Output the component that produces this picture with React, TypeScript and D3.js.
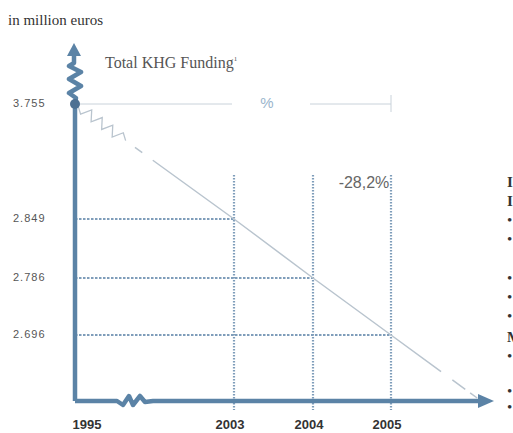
import React from "react";
import * as d3 from "d3";

const years = [1995, 2003, 2004, 2005];
const yearLabels = ["1995", "2003", "2004", "2005"];
const values = [3.755, 2.849, 2.786, 2.696];
const valueLabels = ["3.755", "2.849", "2.786", "2.696"];
const changeLabel = "-28,2%";
const unitLabel = "in million euros";
const titleLabel = "Total KHG Funding";
const sideRows = [
  { t: "I", y: 187, bold: true },
  { t: "I", y: 206, bold: true },
  { t: "•", y: 225 },
  { t: "•", y: 244 },
  { t: "•", y: 283 },
  { t: "•", y: 302 },
  { t: "•", y: 321 },
  { t: "M", y: 342, bold: true },
  { t: "•", y: 361 },
  { t: "•", y: 396 },
  { t: "•", y: 412 },
];

const W = 513;
const H = 433;
const AXIS = "#5b83a6";
const GRID = "#7f9dba";
const LINE = "#b9c4ce";

export default function App() {
  const x = d3.scaleLinear().domain(years).range([75, 234, 313, 391]);
  const yDomain = [...values].sort((a, b) => a - b);
  const y = d3.scaleLinear().domain(yDomain).range([335, 278, 219, 104]);
  const baseY = 401;
  const axisX = x(years[0]);

  const pts: [number, number][] = years.map((yr, i) => [x(yr), y(values[i])]);
  const line = d3.line<[number, number]>();

  // squiggle near the start of the trend line
  const [p0, p1] = [pts[0], pts[1]];
  const dx = p1[0] - p0[0];
  const dy = p1[1] - p0[1];
  const len = Math.hypot(dx, dy);
  const ux = dx / len, uy = dy / len;
  const nx = -uy, ny = ux;
  const sq: [number, number][] = [];
  for (let i = 0; i <= 9; i++) {
    const t = 4 + i * 6.5;
    const a = i === 0 || i === 9 ? 0 : (i % 2 ? 5 : -5);
    sq.push([p0[0] + ux * t + nx * a, p0[1] + uy * t + ny * a]);
  }

  // extension beyond last point
  const last = pts[pts.length - 1];
  const prev = pts[pts.length - 2];
  const slope = (last[1] - prev[1]) / (last[0] - prev[0]);
  const extEndY = baseY - 3;
  const ext: [number, number][] = [last, [last[0] + (extEndY - last[1]) / slope, extEndY]];

  // y axis with zigzag
  const yTop = 43;
  const zig: [number, number][] = [
    [axisX, baseY],
    [axisX, y(values[0])],
    [axisX + 1, 98],
    [axisX - 6, 93],
    [axisX + 6, 86],
    [axisX - 6, 79],
    [axisX + 6, 72],
    [axisX - 6, 66],
    [axisX - 1, 63],
    [axisX - 1, yTop + 10],
  ];
  const xzig: [number, number][] = [
    [axisX, baseY],
    [117, baseY],
    [123, baseY + 4],
    [129, baseY - 5],
    [133, baseY + 4],
    [140, baseY - 5],
    [145, baseY + 1],
    [153, baseY],
    [480, baseY],
  ];

  const font = "'Liberation Sans', Arial, sans-serif";
  const serif = "'Liberation Serif', 'Times New Roman', serif";

  return (
    <svg width={W} height={H} style={{ position: "absolute", left: 0, top: 0, background: "#fff" }}>
      <text x={8} y={25} fontFamily={serif} fontSize={15} fill="#333">{unitLabel}</text>
      <text x={105} y={68} fontFamily={serif} fontSize={16} fill="#555">
        {titleLabel}
        <tspan fontSize={7} dy={-7}>1</tspan>
      </text>

      {/* top reference line */}
      <line x1={axisX + 5} x2={232} y1={y(values[0])} y2={y(values[0])} stroke="#c9d2da" strokeWidth={1} />
      <line x1={310} x2={x(2005)} y1={y(values[0])} y2={y(values[0])} stroke="#c9d2da" strokeWidth={1} />
      <line x1={x(2005)} x2={x(2005)} y1={y(values[0]) - 9} y2={y(values[0]) + 8} stroke="#c9d2da" strokeWidth={1} />
      <text x={267} y={108} textAnchor="middle" fontFamily={font} fontSize={15} fill="#9ab5cc">%</text>

      {/* vertical dotted lines */}
      {years.slice(1).map((yr) => (
        <line key={"v" + yr} x1={x(yr)} x2={x(yr)} y1={175} y2={baseY + 9} stroke={GRID} strokeWidth={2.2} strokeDasharray="1.6 1.4" />
      ))}
      {/* horizontal dotted lines */}
      {years.slice(1).map((yr, i) => (
        <line key={"h" + yr} x1={axisX} x2={x(yr)} y1={y(values[i + 1])} y2={y(values[i + 1])} stroke={GRID} strokeWidth={2.2} strokeDasharray="2.5 1.5" />
      ))}

      {/* trend line */}
      <path d={line(pts) || ""} fill="none" stroke={LINE} strokeWidth={1.5} strokeDasharray="0 74 9 13 2000" />
      <path d={line(sq) || ""} fill="none" stroke={LINE} strokeWidth={1.3} />
      <path d={line(ext) || ""} fill="none" stroke={LINE} strokeWidth={1.5} strokeDasharray="62 14 16 6 12 40" />

      {/* axes */}
      <path d={line(zig) || ""} fill="none" stroke={AXIS} strokeWidth={4.5} strokeLinejoin="round" />
      <path d={`M${axisX - 1 - 7},${yTop + 13} L${axisX - 1},${yTop} L${axisX - 1 + 7},${yTop + 13} Z`} fill={AXIS} />
      <path d={line(xzig) || ""} fill="none" stroke={AXIS} strokeWidth={4.5} strokeLinejoin="round" />
      <path d={`M478,${baseY - 7} L494,${baseY} L478,${baseY + 7} Z`} fill={AXIS} />
      <circle cx={axisX} cy={y(values[0])} r={5} fill="#4d7193" />

      {/* value labels */}
      {values.map((v, i) => (
        <text key={"l" + i} x={13} y={y(v) + 3} fontFamily={font} fontSize={11} letterSpacing={1} fill="#555">{valueLabels[i]}</text>
      ))}
      {/* year labels */}
      {years.map((yr, i) => (
        <text key={"y" + yr} x={i === 0 ? 87 : x(yr) - 4} y={429} textAnchor="middle" fontFamily={font} fontSize={13} fontWeight="bold" fill="#333">{yearLabels[i]}</text>
      ))}

      <text x={364} y={188} textAnchor="middle" fontFamily={font} fontSize={16} fill="#666">{changeLabel}</text>

      {sideRows.map((r, i) => (
        <text key={"s" + i} x={507} y={r.y} fontFamily={serif} fontSize={15} fontWeight={r.bold ? "bold" : "normal"} fill="#333">{r.t}</text>
      ))}
    </svg>
  );
}
